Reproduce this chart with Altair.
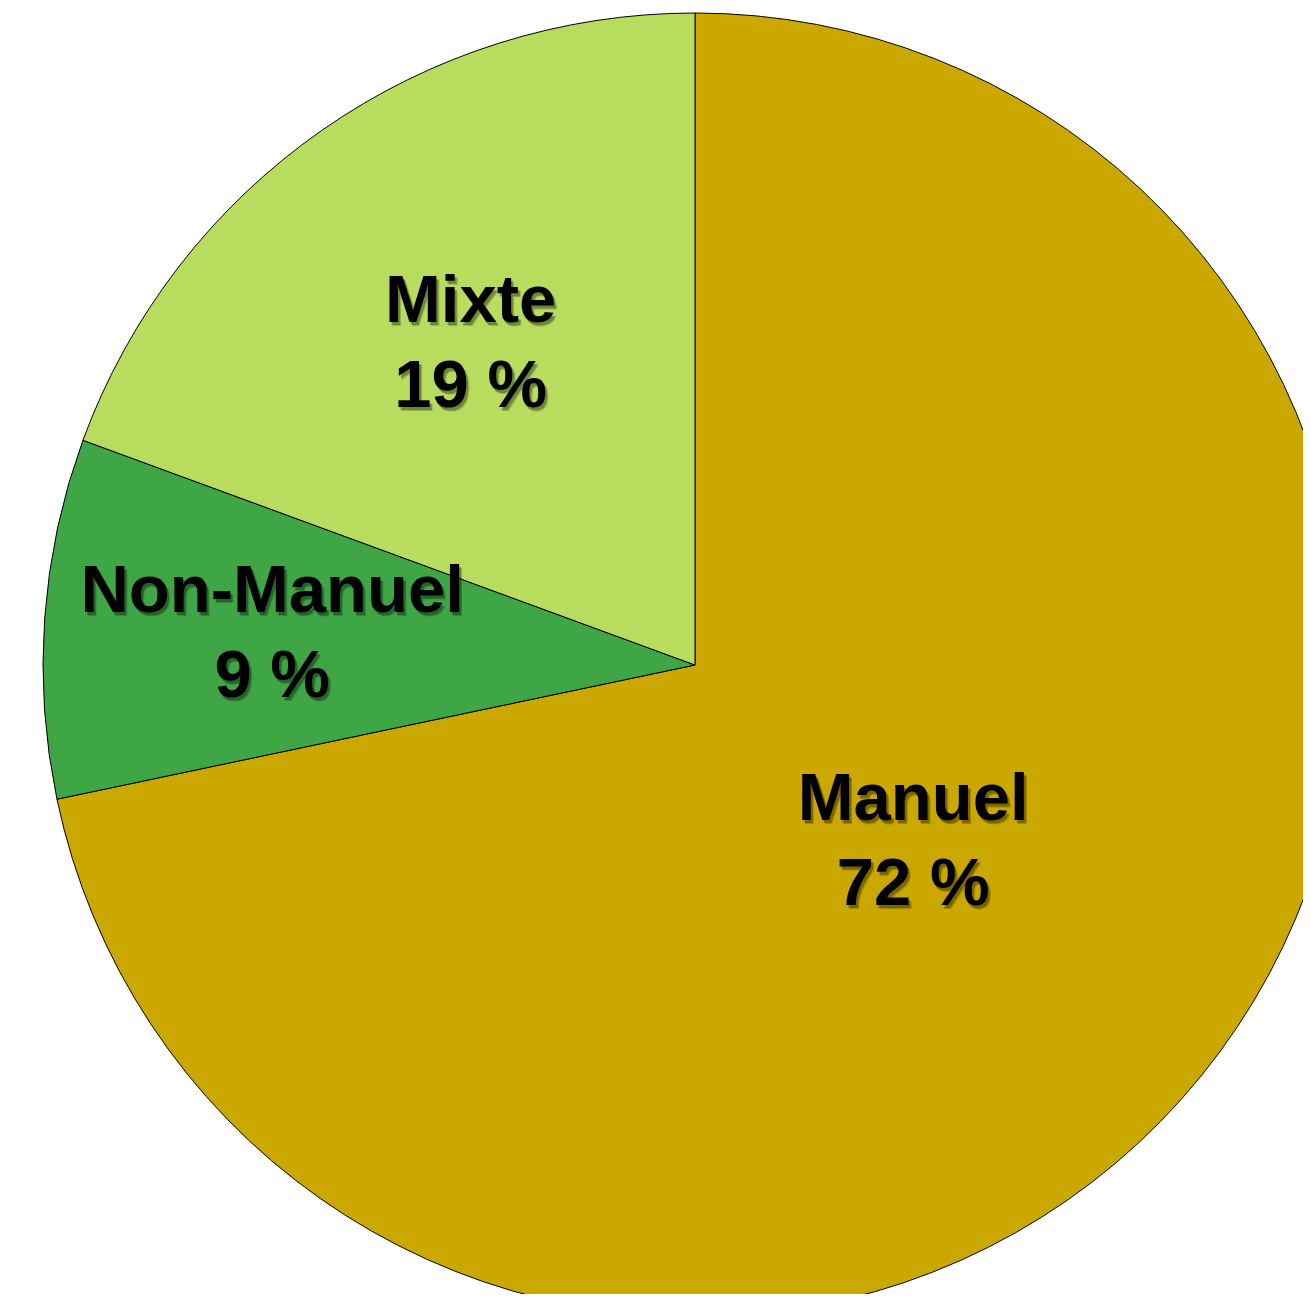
import altair as alt
import pandas as pd

categories = ["Manuel", "Non-Manuel", "Mixte"]
values = [71.7, 8.9, 19.4]
label_pct = [72, 9, 19]
colors = ["#CAA800", "#3EA645", "#B8DC5E"]
label_radius = [281, 424, 392]

df = pd.DataFrame({
    "cat": categories,
    "val": values,
    "ordre": list(range(len(categories))),
    "label": [f"{c}\n{p} %" for c, p in zip(categories, label_pct)],
})

CX, CY = 687, 657
theta_scale = alt.Scale(domain=[0, 100])

base = alt.Chart(df)

pie = base.mark_arc(radius=652, stroke="black", strokeWidth=1).encode(
    theta=alt.Theta("val:Q", stack=True, scale=theta_scale),
    color=alt.Color("cat:N", scale=alt.Scale(domain=categories, range=colors), legend=None),
    order=alt.Order("ordre:Q"),
    x=alt.value(CX),
    y=alt.value(CY),
)

stacked = base.transform_window(
    cum="sum(val)", sort=[alt.SortField("ordre")]
).transform_calculate(mid="datum.cum - datum.val / 2")

text_style = dict(font="Liberation Sans", fontWeight="bold", fontSize=67,
                  lineHeight=85, lineBreak="\n", align="center", baseline="middle")

layers = [pie]
for cat, r in zip(categories, label_radius):
    sub = stacked.transform_filter(alt.datum.cat == cat)
    for dx, dy, op in [(3, 4, 0.18), (2, 3, 0.25)]:
        layers.append(
            sub.mark_text(radius=r, dx=dx, dy=dy - 42, color="black", opacity=op, **text_style).encode(
                theta=alt.Theta("mid:Q", scale=theta_scale),
                text="label:N",
                x=alt.value(CX), y=alt.value(CY),
            )
        )
    layers.append(
        sub.mark_text(radius=r, dy=-42, color="black", **text_style).encode(
            theta=alt.Theta("mid:Q", scale=theta_scale),
            text="label:N",
            x=alt.value(CX), y=alt.value(CY),
        )
    )

chart = alt.layer(*layers).properties(
    width=1295, height=1286, autosize=alt.AutoSizeParams(type="none"), padding=0,
    background="white",
).configure_view(stroke=None)

chart.save("out.html", embed_options={"renderer": "svg", "actions": False})
